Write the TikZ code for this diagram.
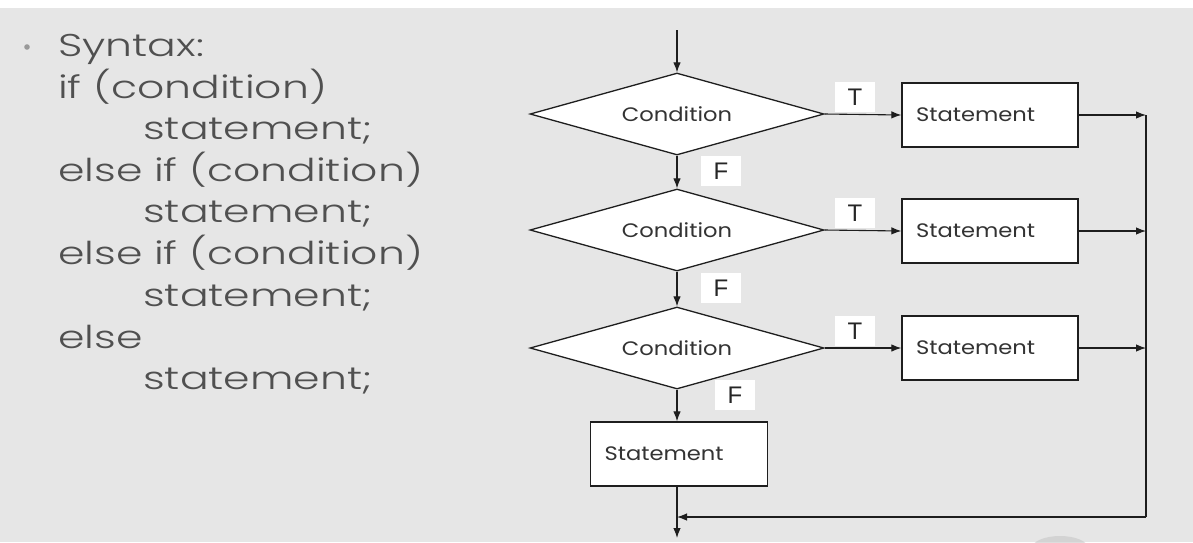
\documentclass[tikz,border=0pt]{standalone}
\usepackage{fontspec}
\setmainfont{Poppins}
\newfontfamily\codefont[FakeStretch=1.35]{Poppins Light}
\newfontfamily\diafont[FakeStretch=1.16]{Poppins}
\newfontfamily\labfont{Liberation Sans}
\usetikzlibrary{shapes.geometric,arrows.meta}
\definecolor{bg}{HTML}{E6E6E6}
\definecolor{txt}{HTML}{505050}
\definecolor{lin}{HTML}{1E1E1E}
\begin{document}
\begin{tikzpicture}[x=1pt,y=-1pt,
  cond/.style={shape=diamond, draw=lin, line width=1.3pt, fill=white, aspect=3.585,
    inner sep=0pt, minimum width=294pt, minimum height=82pt, font=\diafont\fontsize{19.5}{21}\selectfont, text=black!80},
  stbox/.style={draw=lin, line width=1.3pt, fill=white, minimum width=176pt, minimum height=64pt,
    text width=148pt, inner xsep=14pt, align=left, font=\diafont\fontsize{19.5}{21}\selectfont, text=black!80},
  tf/.style={fill=white, minimum width=40pt, minimum height=30pt, inner sep=0pt,
    font=\labfont\fontsize{24}{26}\selectfont, text=black!85},
  arr/.style={draw=lin, line width=1.1pt, -{Latex[length=10pt,width=7.5pt]}},
  ln/.style={draw=lin, line width=1.1pt},
  code/.style={anchor=base west, inner sep=0pt, text=txt, font=\codefont\fontsize{31.5}{34}\selectfont}]
\useasboundingbox (0,0) rectangle (1193,542);
\fill[bg] (0,0) rectangle (1193,542);
\fill[white] (0,0) rectangle (1193,8);
\fill[black!22, opacity=0.6] (1060,548) ellipse (28pt and 12pt);
% code text
\fill[black!40] (27,47) circle (2.8pt);
\node[code] (l1) at (58,56) {Syntax:};
\node[code] (l2) at (58,98) {if (condition)};
\node[code] (l3) at (143,139) {statement;};
\node[code] (l4) at (58,181) {else if (condition)};
\node[code] (l5) at (143,222) {statement;};
\node[code] (l6) at (58,264) {else if (condition)};
\node[code] (l7) at (143,306) {statement;};
\node[code] (l8) at (58,348) {else};
\node[code] (l9) at (143,389) {statement;};
% flowchart
\coordinate (start) at (677,30);
\node[cond] (d1) at (677,114) {Condition};
\node[cond] (d2) at (677,230) {Condition};
\node[cond] (d3) at (677,348) {Condition};
\node[stbox] (s1) at (990,115) {Statement};
\node[stbox] (s2) at (990,231) {Statement};
\node[stbox] (s3) at (990,348) {Statement};
\node[stbox, minimum width=177pt, text width=149pt] (s4) at (679,454) {Statement};
\coordinate (j1) at (1146,115);
\coordinate (j2) at (1146,231);
\coordinate (j3) at (1146,348);
\coordinate (jb) at (1146,517);
\coordinate (m) at (677,517);
\coordinate (endp) at (677,538);
\draw[arr] (start) -- (d1.north);
\draw[arr] (d1.south) -- (d2.north);
\draw[arr] (d2.south) -- (d3.north);
\draw[arr] (d3.south) -- (d3.south |- s4.north);
\draw[arr] (d1.east) -- (s1.west);
\draw[arr] (d2.east) -- (s2.west);
\draw[arr] (d3.east) -- (s3.west);
\draw[arr] (s1.east) -- (j1);
\draw[arr] (s2.east) -- (j2);
\draw[arr] (s3.east) -- (j3);
\draw[ln] (j1) -- (jb);
\draw[arr] (jb) -- (m);
\draw[arr] (d3.south |- s4.south) -- (endp);
\node[tf] (t1) at (855,97) {T};
\node[tf] (t2) at (855,213) {T};
\node[tf] (t3) at (855,331) {T};
\node[tf] (f1) at (721,171) {F};
\node[tf] (f2) at (721,288) {F};
\node[tf] (f3) at (735,395) {F};
\end{tikzpicture}
\end{document}
